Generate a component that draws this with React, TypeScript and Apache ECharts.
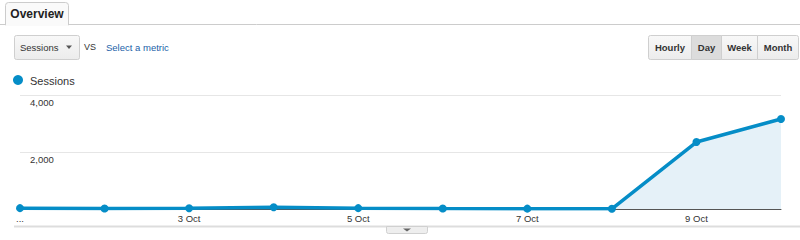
import React, { useEffect, useRef } from "react";
import * as echarts from "echarts";

// Daily sessions, 1 Oct – 10 Oct
const days = ["1 Oct", "2 Oct", "3 Oct", "4 Oct", "5 Oct", "6 Oct", "7 Oct", "8 Oct", "9 Oct", "10 Oct"];
const sessions = [30, 20, 25, 60, 30, 15, 12, 8, 2350, 3160];
const yTicks = [0, 2000, 4000];
const granularity = ["Hourly", "Day", "Week", "Month"];

const FONT = "'Liberation Sans', Arial, sans-serif";
const BLUE = "#058dc7";

export default function App() {
  const ref = useRef<HTMLDivElement>(null);

  useEffect(() => {
    if (!ref.current) return;
    const chart = echarts.init(ref.current, null, { renderer: "svg" });

    // Segmented granularity buttons
    const btnX = [648, 691, 721, 757, 798];
    const buttons: any[] = [];
    granularity.forEach((g, i) => {
      const pressed = g === "Day";
      buttons.push({
        type: "rect",
        shape: { x: btnX[i] + 0.5, y: 35.5, width: btnX[i + 1] - btnX[i], height: 24, r: i === 0 ? [2, 0, 0, 2] : i === 3 ? [0, 2, 2, 0] : 0 },
        style: {
          fill: pressed
            ? "#dcdcdc"
            : new echarts.graphic.LinearGradient(0, 0, 0, 1, [
                { offset: 0, color: "#f8f8f8" },
                { offset: 1, color: "#ececec" },
              ]),
          stroke: "#cfcfcf",
          lineWidth: 1,
        },
      });
      buttons.push({
        type: "text",
        x: (btnX[i] + btnX[i + 1]) / 2 + 0.5,
        y: 47.5,
        style: { text: g, font: `bold 9.5px ${FONT}`, fill: "#333", align: "center", verticalAlign: "middle" },
      });
    });

    chart.setOption({
      animation: false,
      grid: { left: 20, right: 19, top: 95, bottom: 31 },
      xAxis: {
        type: "category",
        data: days,
        boundaryGap: false,
        axisTick: { show: false },
        axisLine: { lineStyle: { color: "#555", width: 1 } },
        axisLabel: {
          interval: 1,
          margin: 4,
          fontFamily: FONT,
          fontSize: 9.5,
          color: "#333",
          formatter: (v: string, i: number) => (i === 0 ? "..." : v),
        },
      },
      yAxis: {
        type: "value",
        min: yTicks[0],
        max: yTicks[yTicks.length - 1],
        interval: yTicks[1] - yTicks[0],
        axisLine: { show: false },
        axisTick: { show: false },
        splitLine: { lineStyle: { color: "#e6e6e6", width: 1 } },
        axisLabel: {
          inside: true,
          verticalAlign: "top",
          padding: [2, 0, 0, 2],
          fontFamily: FONT,
          fontSize: 9.5,
          color: "#333",
          formatter: (v: number) => (v === 0 ? "" : v.toLocaleString("en-US")),
        },
      },
      series: [
        {
          type: "line",
          data: sessions,
          symbol: "circle",
          symbolSize: 8,
          showSymbol: true,
          lineStyle: { color: BLUE, width: 3.5 },
          itemStyle: { color: BLUE },
          areaStyle: { color: "#e5f1f8", opacity: 1 },
          z: 3,
        },
      ],
      graphic: [
        // tab strip
        { type: "line", shape: { x1: 0, y1: 24.5, x2: 800, y2: 24.5 }, style: { stroke: "#cccccc", lineWidth: 1 } },
        {
          type: "rect",
          shape: { x: 5.5, y: 2.5, width: 63, height: 22.5, r: [3, 3, 0, 0] },
          style: { fill: "#fafafa", stroke: "#cccccc", lineWidth: 1 },
        },
        { type: "rect", shape: { x: 6, y: 23, width: 62, height: 3 }, style: { fill: "#fafafa" } },
        {
          type: "text",
          x: 37,
          y: 14,
          style: { text: "Overview", font: `bold 12px ${FONT}`, fill: "#222", align: "center", verticalAlign: "middle" },
        },
        // metric selector
        {
          type: "rect",
          shape: { x: 14.5, y: 35.5, width: 65, height: 24, r: 2 },
          style: {
            fill: new echarts.graphic.LinearGradient(0, 0, 0, 1, [
              { offset: 0, color: "#f8f8f8" },
              { offset: 1, color: "#ececec" },
            ]),
            stroke: "#cfcfcf",
            lineWidth: 1,
          },
        },
        { type: "text", x: 20, y: 47.5, style: { text: "Sessions", font: `9.5px ${FONT}`, fill: "#333", verticalAlign: "middle" } },
        { type: "polygon", shape: { points: [[66, 45.5], [72, 45.5], [69, 49]] }, style: { fill: "#555" } },
        { type: "text", x: 84, y: 46.5, style: { text: "VS", font: `9px ${FONT}`, fill: "#333", verticalAlign: "middle" } },
        {
          type: "text",
          x: 106,
          y: 47.5,
          style: { text: "Select a metric", font: `9.5px ${FONT}`, fill: "#1a5fa8", verticalAlign: "middle" },
        },
        ...buttons,
        // legend
        { type: "circle", shape: { cx: 18, cy: 80, r: 5 }, style: { fill: BLUE } },
        { type: "text", x: 30, y: 80.5, style: { text: "Sessions", font: `11px ${FONT}`, fill: "#333", verticalAlign: "middle" } },
        // bottom bar with collapse handle
        { type: "line", shape: { x1: 14, y1: 226.5, x2: 800, y2: 226.5 }, style: { stroke: "#dddddd", lineWidth: 2 } },
        {
          type: "rect",
          shape: { x: 386.5, y: 226.5, width: 41, height: 7, r: [0, 0, 2, 2] },
          style: { fill: "#eeeeee", stroke: "#d0d0d0", lineWidth: 1 },
        },
        { type: "polygon", shape: { points: [[403, 228.5], [411, 228.5], [407, 231.5]] }, style: { fill: "#666" } },
      ],
    });

    return () => chart.dispose();
  }, []);

  return (
    <div
      ref={ref}
      style={{ position: "absolute", left: 0, top: 0, width: 800, height: 240, background: "#fff" }}
    />
  );
}
